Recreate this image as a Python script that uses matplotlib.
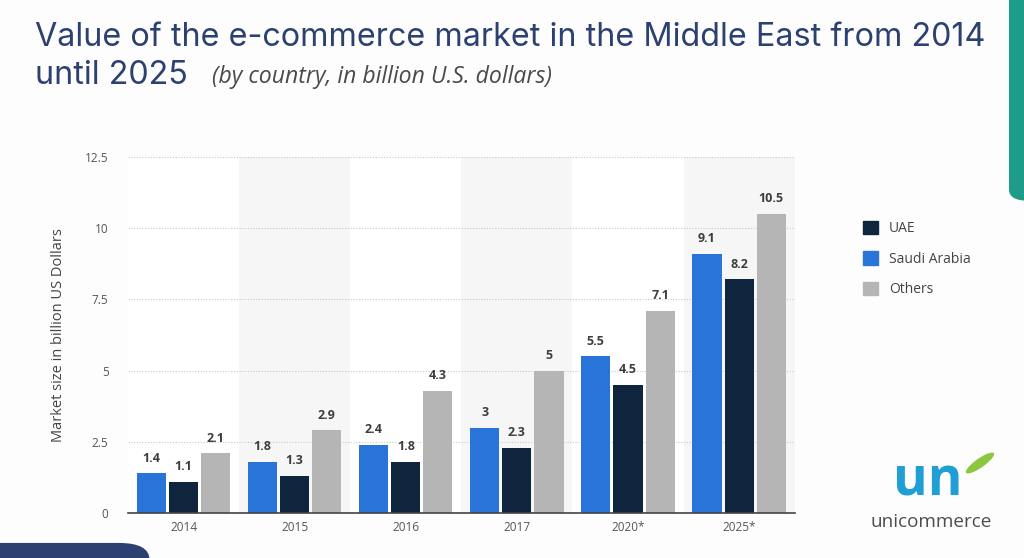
import matplotlib.pyplot as plt
import matplotlib.patches as mpatches
import numpy as np

years = ["2014", "2015", "2016", "2017", "2020*", "2025*"]
saudi = [1.4, 1.8, 2.4, 3.0, 5.5, 9.1]
uae = [1.1, 1.3, 1.8, 2.3, 4.5, 8.2]
others = [2.1, 2.9, 4.3, 5.0, 7.1, 10.5]
yticks = [0, 2.5, 5, 7.5, 10, 12.5]

c_saudi = "#2874d9"
c_uae = "#0e253d"
c_others = "#b5b5b5"
navy = "#2c4170"

plt.rcParams['font.family'] = ['Open Sans', 'DejaVu Sans']

fig = plt.figure(figsize=(10.24, 5.58), dpi=100)
fig.patch.set_facecolor("#fdfdfd")
ax = fig.add_axes([0.125, 0.0806, 0.651, 0.638])

x = np.arange(len(years))
w = 0.262
step = 0.289

# alternating bands
for i in range(1, len(years), 2):
    ax.axvspan(i - 0.5, i + 0.5, color="#f6f6f6", zorder=0, lw=0)

series = [(saudi, c_saudi, -step), (uae, c_uae, 0), (others, c_others, step)]
for vals, col, off in series:
    bars = ax.bar(x + off, vals, width=w, color=col, zorder=3)
    for b, v in zip(bars, vals):
        ax.text(b.get_x() + b.get_width() / 2, v + 0.3, f"{v:g}", ha="center", va="bottom",
                fontsize=9, fontweight="bold", color="#3d3d3d", zorder=4)

ax.set_xlim(-0.5, len(years) - 0.5)
ax.set_ylim(0, 12.5)
ax.set_yticks(yticks)
ax.set_yticklabels([f"{t:g}" for t in yticks])
ax.set_xticks(x)
ax.set_xticklabels(years)
ax.tick_params(axis="both", length=0, labelsize=8.5, colors="#555555")
ax.tick_params(axis="y", pad=14)
ax.tick_params(axis="x", pad=6)
ax.yaxis.grid(True, linestyle=(0, (1, 1.5)), color="#c8c8c8", lw=0.8, zorder=1)
ax.set_axisbelow(True)
for s in ["top", "right", "left"]:
    ax.spines[s].set_visible(False)
ax.spines["bottom"].set_color("#444444")
ax.spines["bottom"].set_linewidth(1.2)
ax.spines["bottom"].set_zorder(5)
ax.set_facecolor("white")
ax.set_ylabel("Market size in billion US Dollars", fontsize=10.5, color="#444444", labelpad=14)


def fit_text(t, target_px):
    # scale font size so the text is target_px wide
    fig.canvas.draw()
    wpx = t.get_window_extent().width
    t.set_fontsize(t.get_fontsize() * target_px / wpx)


# title
t1 = fig.text(35 / 1024, 1 - 38 / 558, "Value of the e-commerce market in the Middle East from 2014",
              fontsize=20, color=navy, ha="left", va="center", family=["Inter", "DejaVu Sans"])
fit_text(t1, 950)
t2 = fig.text(35 / 1024, 1 - 76 / 558, "until 2025", fontsize=t1.get_fontsize(), color=navy,
              ha="left", va="center", family=["Inter", "DejaVu Sans"])
t3 = fig.text(212 / 1024, 1 - 77 / 558, "(by country, in billion U.S. dollars)",
              fontsize=13, style="italic", color="#4a4a4a", ha="left", va="center")
fit_text(t3, 339)

# legend
handles = [mpatches.Patch(color=c_uae, label="UAE"),
           mpatches.Patch(color=c_saudi, label="Saudi Arabia"),
           mpatches.Patch(color=c_others, label="Others")]
leg = fig.legend(handles=handles, loc="upper left", bbox_to_anchor=(850 / 1024, 1 - 208 / 558),
                 frameon=False, fontsize=10, handlelength=1.1, handleheight=1.1,
                 labelspacing=1.1, handletextpad=0.8)
for t in leg.get_texts():
    t.set_color("#444444")

# decorative shapes
fig.patches.append(mpatches.FancyBboxPatch((1009 / 1024, 0.64), 0.05, 0.45,
                                           boxstyle="round,pad=0,rounding_size=0.02",
                                           transform=fig.transFigure, color="#1e9c8a", lw=0))
fig.patches.append(mpatches.FancyBboxPatch((-0.05, -0.05), 0.196, 0.077,
                                           boxstyle="round,pad=0,rounding_size=0.03",
                                           transform=fig.transFigure, color=navy, lw=0))

# logo
logo = fig.text(928 / 1024, 1 - 496 / 558, "un", fontsize=38, fontweight="bold", color="#1f9fd3",
                ha="center", va="baseline")
fig.patches.append(mpatches.Ellipse((980 / 1024, 1 - 463 / 558), 0.012, 0.045, angle=-35,
                                    transform=fig.transFigure, color="#8dc63f", lw=0))
brand = fig.text(931 / 1024, 1 - 522 / 558, "unicommerce", fontsize=14, color="#4d4d4d",
                 ha="center", va="center")
fit_text(brand, 122)

fig.savefig("out.png", dpi=100, facecolor=fig.get_facecolor())
